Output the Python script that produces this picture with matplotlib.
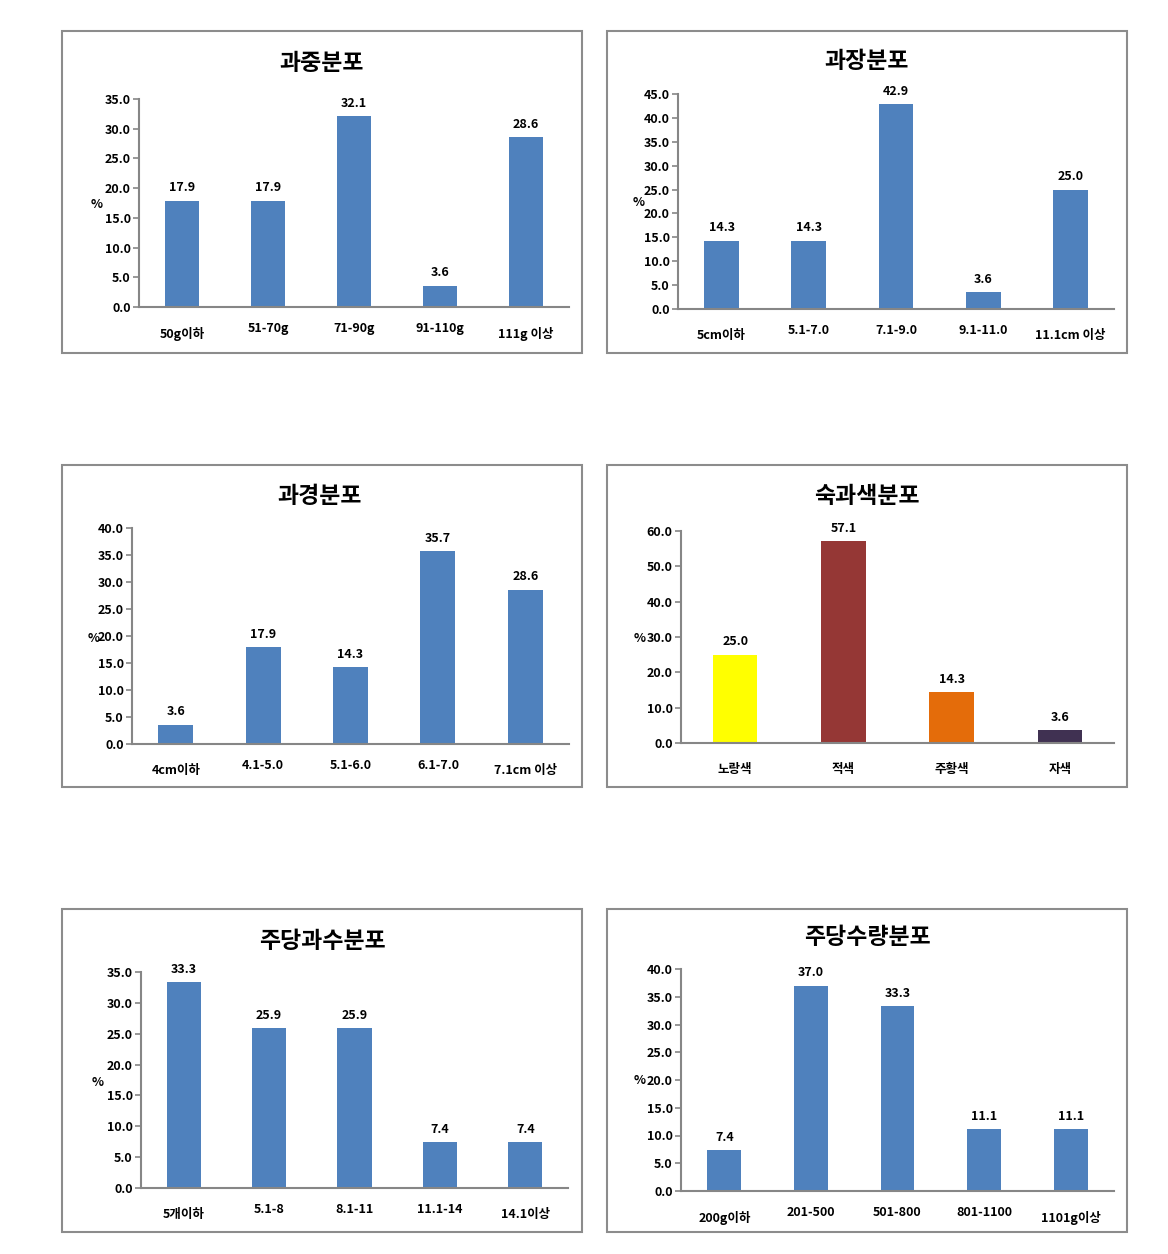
import matplotlib
matplotlib.use("Agg")
import matplotlib.pyplot as plt
from matplotlib.patches import Rectangle

plt.rcParams['font.family'] = ['Noto Sans CJK KR', 'DejaVu Sans']

# 데이터
cat_weight = ["50g이하", "51-70g", "71-90g", "91-110g", "111g 이상"]
val_weight = [17.9, 17.9, 32.1, 3.6, 28.6]

cat_length = ["5cm이하", "5.1-7.0", "7.1-9.0", "9.1-11.0", "11.1cm 이상"]
val_length = [14.3, 14.3, 42.9, 3.6, 25.0]

cat_diam = ["4cm이하", "4.1-5.0", "5.1-6.0", "6.1-7.0", "7.1cm 이상"]
val_diam = [3.6, 17.9, 14.3, 35.7, 28.6]

cat_color = ["노랑색", "적색", "주황색", "자색"]
val_color = [25.0, 57.1, 14.3, 3.6]
bar_colors = ["#FFFF00", "#953735", "#E46C0A", "#403152"]

cat_count = ["5개이하", "5.1-8", "8.1-11", "11.1-14", "14.1이상"]
val_count = [33.3, 25.9, 25.9, 7.4, 7.4]

cat_yield = ["200g이하", "201-500", "501-800", "801-1100", "1101g이상"]
val_yield = [7.4, 37.0, 33.3, 11.1, 11.1]

W, H = 1168, 1254
fig = plt.figure(figsize=(W / 100, H / 100), dpi=100)

BLUE = "#4F81BD"
GRAY = "#868686"
FS = 9


def has_hangul(s):
    return any('\uac00' <= ch <= '\ud7a3' for ch in s)


def panel(box, ax_px, title, title_xy, pct_xy, cats, vals, ymax, step,
          colors=BLUE, width=0.4):
    # 테두리
    bx0, by0, bx1, by1 = box
    fig.add_artist(Rectangle((bx0 / W, 1 - by1 / H), (bx1 - bx0) / W, (by1 - by0) / H,
                             transform=fig.transFigure, fill=False,
                             edgecolor="#8c8c8c", lw=1.5))
    x0, y0, x1, y1 = ax_px
    ax = fig.add_axes([x0 / W, 1 - y1 / H, (x1 - x0) / W, (y1 - y0) / H])
    xs = range(len(cats))
    ax.bar(xs, vals, width=width, color=colors)
    ax.set_xlim(-0.5, len(cats) - 0.5)
    ax.set_ylim(0, ymax)
    n = int(round(ymax / step)) + 1
    ax.set_yticks([i * step for i in range(n)])
    ax.set_yticklabels([f"{i * step:.1f}" for i in range(n)],
                       fontsize=FS, fontweight='bold')
    ax.set_xticks(list(xs))
    ax.set_xticklabels(cats, fontsize=FS, fontweight='bold')
    for t, c in zip(ax.xaxis.get_major_ticks(), cats):
        t.set_pad(14.5 if has_hangul(c) else 11)
    ax.tick_params(axis='x', length=0)
    ax.tick_params(axis='y', length=4, width=1.2, color=GRAY, pad=2)
    for s in ['top', 'right']:
        ax.spines[s].set_visible(False)
    for s in ['left', 'bottom']:
        ax.spines[s].set_color(GRAY)
        ax.spines[s].set_linewidth(1.5)
    for x, v in zip(xs, vals):
        ax.annotate(f"{v:.1f}", (x, v), xytext=(0, 4.5), textcoords='offset points',
                    ha='center', va='bottom', fontsize=FS, fontweight='bold')
    fig.text(title_xy[0] / W, 1 - title_xy[1] / H, title, ha='center', va='center',
             fontsize=16.5, fontweight='bold')
    fig.text(pct_xy[0] / W, 1 - pct_xy[1] / H, "%", ha='center', va='center',
             fontsize=FS, fontweight='bold')
    return ax


panel((62, 31, 582, 353), (139, 99, 569, 307), "과중분포", (322, 64), (97, 204),
      cat_weight, val_weight, 35, 5)
panel((607, 31, 1127, 353), (678, 94, 1114, 309), "과장분포", (867, 61), (639, 203),
      cat_length, val_length, 45, 5)
panel((62, 465, 582, 787), (132, 528, 569, 744), "과경분포", (320, 497), (94, 638),
      cat_diam, val_diam, 40, 5)
panel((607, 465, 1127, 787), (681, 531, 1114, 743), "숙과색분포", (867, 497), (640, 638),
      cat_color, val_color, 60, 10, colors=bar_colors, width=0.41)
panel((62, 909, 582, 1232), (141, 972, 568, 1188), "주당과수분포", (322, 941), (98, 1082),
      cat_count, val_count, 35, 5)
panel((607, 909, 1127, 1232), (681, 969, 1114, 1191), "주당수량분포", (867, 938), (640, 1081),
      cat_yield, val_yield, 40, 5, width=0.39)

fig.savefig("out.png", dpi=100)
